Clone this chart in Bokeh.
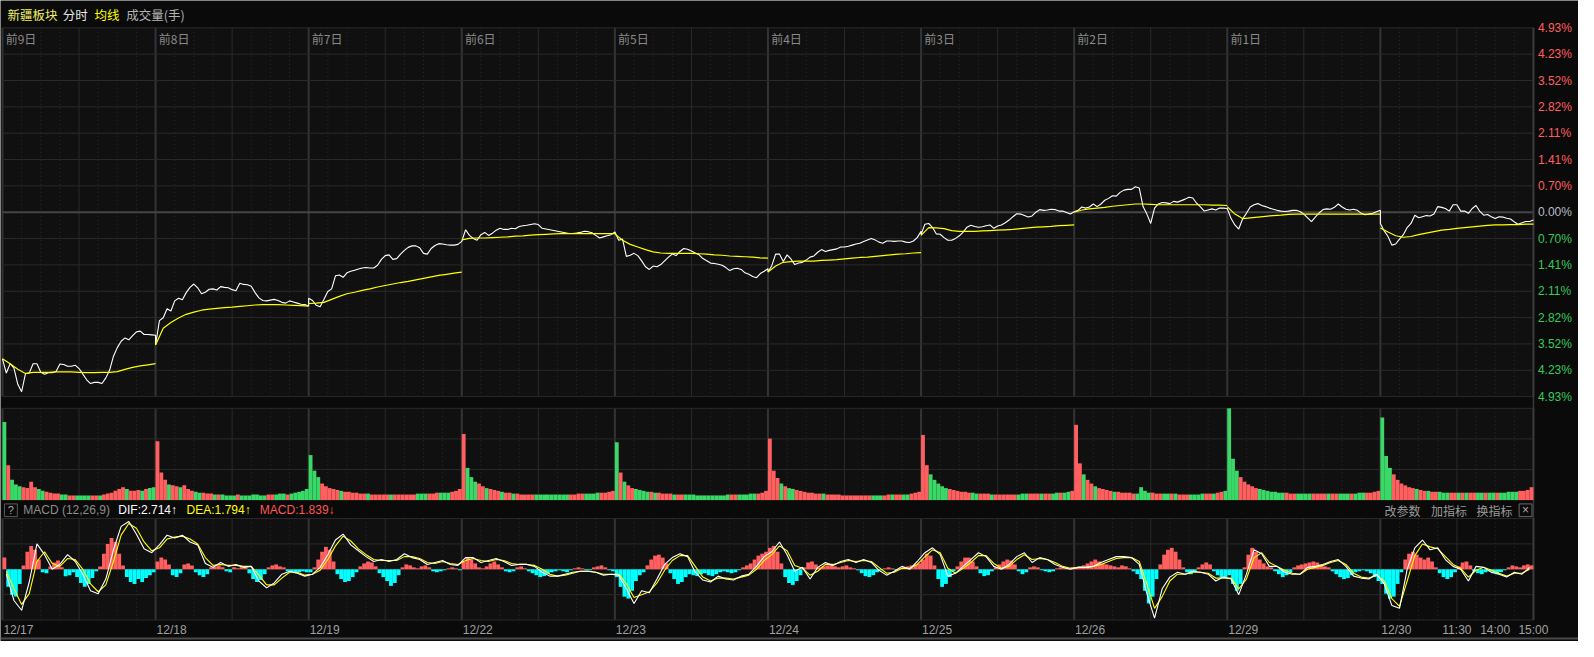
import numpy as np
from bokeh.plotting import figure
from bokeh.models import Range1d
from bokeh.core.properties import value
from bokeh.embed import file_html
from bokeh.resources import INLINE

# ---------------- data ----------------
dates = ["12/17", "12/18", "12/19", "12/22", "12/23", "12/24", "12/25", "12/26", "12/29", "12/30"]
day_tags = ["前9日", "前8日", "前7日", "前6日", "前5日", "前4日", "前3日", "前2日", "前1日", ""]
time_ticks = ["11:30", "14:00", "15:00"]
time_tick_min = [120, 180, 240]          # minutes into the last session
pct_labels = ["4.93%", "4.23%", "3.52%", "2.82%", "2.11%", "1.41%", "0.70%", "0.00%",
              "0.70%", "1.41%", "2.11%", "2.82%", "3.52%", "4.23%", "4.93%"]
pct_max = 4.93

# price change (%) every 6 minutes, 41 points per session
p1217 = [-3.92,-4.30,-4.05,-4.17,-4.60,-4.80,-4.32,-4.30,-4.05,-4.05,-4.28,-4.33,-4.29,-4.29,-4.26,-4.06,-4.07,-4.12,-4.12,-4.09,-4.18,-4.33,-4.48,-4.58,-4.55,-4.55,-4.58,-4.43,-4.22,-3.85,-3.62,-3.45,-3.36,-3.41,-3.30,-3.20,-3.18,-3.27,-3.27,-3.28,-3.29]
p1218 = [-3.55,-2.90,-2.82,-2.58,-2.64,-2.37,-2.30,-2.34,-2.15,-2.01,-1.92,-2.02,-2.18,-2.14,-2.06,-2.05,-2.08,-1.99,-2.01,-2.02,-2.07,-2.10,-1.90,-1.93,-1.94,-1.98,-2.15,-2.29,-2.36,-2.37,-2.35,-2.33,-2.36,-2.41,-2.43,-2.37,-2.40,-2.43,-2.46,-2.47,-2.51]
p1219 = [-2.30,-2.36,-2.49,-2.53,-2.33,-2.12,-2.05,-1.70,-1.68,-1.74,-1.62,-1.58,-1.55,-1.52,-1.49,-1.48,-1.49,-1.49,-1.42,-1.26,-1.16,-1.14,-1.26,-1.24,-1.12,-1.02,-0.94,-0.90,-0.90,-0.95,-1.10,-1.12,-0.97,-0.89,-0.84,-0.85,-0.87,-0.88,-0.88,-0.86,-0.78]
p1222 = [-0.78,-0.47,-0.62,-0.70,-0.75,-0.60,-0.54,-0.62,-0.56,-0.48,-0.43,-0.46,-0.46,-0.43,-0.44,-0.38,-0.36,-0.35,-0.33,-0.31,-0.33,-0.43,-0.45,-0.47,-0.49,-0.51,-0.53,-0.55,-0.57,-0.57,-0.56,-0.54,-0.51,-0.52,-0.55,-0.62,-0.69,-0.66,-0.63,-0.60,-0.53]
p1223 = [-0.53,-0.75,-0.72,-1.18,-1.15,-1.10,-1.16,-1.30,-1.46,-1.53,-1.44,-1.46,-1.40,-1.30,-1.20,-1.12,-1.16,-1.05,-0.97,-0.99,-1.04,-1.09,-1.14,-1.24,-1.30,-1.36,-1.37,-1.39,-1.42,-1.48,-1.56,-1.51,-1.50,-1.53,-1.62,-1.66,-1.72,-1.75,-1.64,-1.58,-1.51]
p1224 = [-1.60,-1.43,-1.12,-1.12,-1.32,-1.14,-1.25,-1.40,-1.36,-1.34,-1.28,-1.20,-1.17,-1.07,-1.00,-1.05,-1.02,-1.00,-0.98,-0.93,-0.93,-0.91,-0.88,-0.85,-0.83,-0.78,-0.74,-0.70,-0.74,-0.80,-0.83,-0.77,-0.77,-0.78,-0.77,-0.77,-0.80,-0.81,-0.77,-0.68,-0.51]
p1225 = [-0.60,-0.32,-0.30,-0.41,-0.58,-0.59,-0.68,-0.75,-0.75,-0.70,-0.63,-0.53,-0.40,-0.35,-0.38,-0.40,-0.39,-0.36,-0.34,-0.43,-0.37,-0.34,-0.28,-0.21,-0.12,-0.04,-0.05,-0.09,-0.13,-0.10,0.00,0.07,0.05,0.06,0.08,0.07,0.03,0.03,-0.01,-0.05,0.01]
p1226 = [0.01,0.05,0.14,0.11,0.14,0.22,0.15,0.22,0.32,0.37,0.44,0.43,0.53,0.59,0.61,0.61,0.68,0.65,0.15,-0.05,-0.30,0.11,0.22,0.26,0.25,0.23,0.29,0.27,0.31,0.35,0.40,0.38,0.24,0.14,0.03,0.06,0.09,0.06,0.11,0.11,0.10]
p1229 = [0.10,-0.17,-0.34,-0.45,-0.18,-0.03,0.14,0.20,0.23,0.18,0.15,0.11,0.08,0.05,0.03,0.02,0.03,0.05,0.05,0.02,-0.05,-0.15,-0.25,-0.13,-0.02,0.07,0.09,0.08,0.13,0.22,0.14,0.08,0.06,0.08,0.05,-0.03,-0.07,-0.05,-0.03,0.01,0.05]
p1230 = [-0.30,-0.50,-0.65,-0.88,-0.85,-0.72,-0.60,-0.41,-0.30,-0.08,-0.15,-0.12,-0.09,-0.10,-0.05,0.15,0.13,0.10,0.03,0.20,0.20,0.03,0.03,-0.03,0.10,0.18,0.02,-0.08,-0.06,-0.12,-0.17,-0.12,-0.13,-0.16,-0.18,-0.26,-0.32,-0.28,-0.25,-0.25,-0.21]

# average price (%) every 12 minutes, 21 points per session
a1217 = [-3.92,-4.05,-4.20,-4.31,-4.28,-4.28,-4.28,-4.27,-4.27,-4.27,-4.28,-4.29,-4.29,-4.28,-4.28,-4.26,-4.20,-4.15,-4.11,-4.08,-4.05]
a1218 = [-3.55,-3.10,-2.95,-2.83,-2.73,-2.67,-2.62,-2.59,-2.57,-2.55,-2.54,-2.52,-2.50,-2.48,-2.47,-2.47,-2.47,-2.48,-2.49,-2.50,-2.51]
a1219 = [-2.44,-2.43,-2.41,-2.33,-2.25,-2.18,-2.14,-2.09,-2.05,-2.00,-1.96,-1.92,-1.88,-1.85,-1.81,-1.77,-1.73,-1.69,-1.66,-1.63,-1.60]
a1222 = [-0.74,-0.70,-0.69,-0.69,-0.68,-0.67,-0.66,-0.64,-0.63,-0.61,-0.60,-0.59,-0.58,-0.57,-0.57,-0.57,-0.57,-0.57,-0.57,-0.57,-0.57]
a1223 = [-0.58,-0.75,-0.86,-0.93,-1.00,-1.06,-1.09,-1.10,-1.10,-1.10,-1.10,-1.11,-1.12,-1.14,-1.15,-1.17,-1.18,-1.19,-1.20,-1.22,-1.23]
a1224 = [-1.60,-1.44,-1.34,-1.32,-1.31,-1.31,-1.31,-1.29,-1.28,-1.27,-1.25,-1.23,-1.21,-1.20,-1.18,-1.16,-1.14,-1.12,-1.11,-1.09,-1.08]
a1225 = [-0.62,-0.41,-0.42,-0.44,-0.49,-0.51,-0.51,-0.51,-0.50,-0.49,-0.48,-0.47,-0.46,-0.44,-0.42,-0.40,-0.39,-0.38,-0.36,-0.35,-0.34]
a1226 = [0.00,0.06,0.09,0.11,0.13,0.16,0.18,0.20,0.22,0.22,0.21,0.20,0.20,0.20,0.20,0.20,0.20,0.20,0.19,0.19,0.18]
a1229 = [0.15,-0.05,-0.17,-0.15,-0.13,-0.11,-0.09,-0.08,-0.06,-0.05,-0.05,-0.05,-0.05,-0.05,-0.05,-0.05,-0.05,-0.05,-0.05,-0.05,-0.05]
a1230 = [-0.42,-0.53,-0.63,-0.67,-0.65,-0.60,-0.56,-0.52,-0.48,-0.46,-0.43,-0.41,-0.39,-0.37,-0.35,-0.34,-0.34,-0.33,-0.33,-0.32,-0.32]

# volume (relative, 100 = panel top), 6-minute bars, 40 per session
v1217 = [85,38,22,17,15,14,13,20,14,12,10,9,8,7,7,6,6,5,5,5,5,5,5,5,5,5,6,7,8,10,12,14,12,10,10,11,10,12,13,14]
v1218 = [64,30,22,17,16,15,14,16,12,10,9,8,8,7,7,6,6,6,5,5,5,6,5,5,5,6,6,5,5,6,6,6,7,7,6,7,8,9,10,12]
v1219 = [49,32,25,18,15,13,12,11,10,9,9,8,8,7,7,7,6,6,6,6,6,6,6,6,6,6,6,6,7,7,7,7,7,8,8,8,8,9,10,12]
v1222 = [72,35,25,20,18,15,13,12,11,10,9,8,8,7,7,6,6,6,6,6,6,6,6,6,6,6,6,6,6,6,7,7,7,7,7,8,8,8,9,10]
v1223 = [63,30,20,16,13,12,11,10,9,9,8,8,7,7,7,6,6,6,6,6,6,5,5,5,5,5,5,5,5,6,6,6,6,6,6,7,7,7,8,10]
v1224 = [67,32,24,18,15,13,12,11,10,9,8,8,7,7,7,6,6,6,6,5,5,5,5,5,5,5,5,5,5,5,5,6,6,6,6,6,6,7,8,9]
v1225 = [71,38,28,22,18,15,13,12,11,10,9,9,8,8,7,7,7,7,6,6,6,6,6,6,6,6,7,7,7,7,7,7,7,7,7,8,8,8,9,10]
v1226 = [82,40,28,22,18,15,13,12,11,10,9,9,8,8,8,7,7,14,10,8,8,7,7,7,7,7,7,6,6,6,6,6,6,7,7,7,7,8,9,10]
v1229 = [100,45,32,25,20,17,15,13,12,11,10,9,9,8,8,8,7,7,7,7,7,7,7,7,7,7,7,7,7,7,7,7,7,7,8,8,8,8,9,10]
v1230 = [90,48,35,28,22,18,16,14,13,12,11,10,10,9,9,9,8,8,8,8,8,8,8,8,8,8,8,8,8,8,8,8,8,9,9,9,10,10,11,14]

# MACD DIF / DEA every 12 minutes (20 per session), histogram every 6 minutes (40 per session)
dif1217 = [-5,-32,-42,-13,26,15,0,5,15,8,-5,-22,-25,-10,20,44,49,36,21,17]
dif1218 = [25,35,32,35,28,25,6,2,7,3,5,2,3,-12,-19,-14,-5,-2,-4,-7]
dif1219 = [-5,2,15,30,36,25,19,13,8,10,8,10,16,12,10,5,7,9,5,4]
dif1222 = [12,12,7,9,11,8,4,5,5,3,-3,-7,-7,-5,-3,-2,-2,-3,-6,-5]
dif1223 = [-6,-20,-35,-22,-24,-10,5,12,16,13,-3,-11,-13,-7,-10,-11,-7,-5,3,13]
dif1224 = [18,28,15,-2,2,-10,2,7,4,8,10,7,10,7,-1,-6,-2,3,0,8]
dif1225 = [17,22,15,-7,-4,3,10,17,13,3,0,5,13,17,7,12,10,5,2,0]
dif1226 = [2,2,3,7,10,13,13,12,5,-25,-50,-20,-8,-3,-5,-2,-3,-5,-12,-8]
dif1229 = [-10,-26,-5,20,16,3,3,-3,-5,-5,2,3,5,8,10,3,-7,-9,-10,-5]
dif1230 = [-15,-37,-40,0,22,30,20,22,10,3,0,-12,3,2,-3,-5,-8,-3,-5,2]

dea1217 = [-2,-20,-36,-25,8,18,6,3,11,10,0,-15,-23,-16,8,35,47,42,28,19]
dea1218 = [22,31,33,34,31,26,12,4,5,4,4,3,3,-6,-16,-16,-9,-3,-3,-6]
dea1219 = [-5,-1,10,24,34,29,21,15,10,9,9,9,13,13,11,7,6,8,6,5]
dea1222 = [9,11,9,8,10,9,6,5,5,4,0,-5,-7,-6,-4,-2,-2,-3,-5,-5]
dea1223 = [-5,-15,-29,-26,-23,-14,-1,9,14,14,3,-8,-12,-9,-9,-10,-8,-6,0,9]
dea1224 = [15,24,19,4,1,-6,-2,5,5,7,9,8,9,8,2,-4,-3,1,1,5]
dea1225 = [13,20,17,1,-4,1,7,14,14,6,1,3,10,15,10,11,10,7,3,1]
dea1226 = [2,2,3,5,8,11,12,12,8,-15,-40,-28,-12,-5,-5,-3,-3,-4,-9,-9]
dea1229 = [-9,-20,-10,12,17,7,3,-1,-4,-5,0,2,4,7,9,5,-4,-8,-9,-6]
dea1230 = [-12,-30,-38,-12,14,26,23,21,13,5,1,-8,-1,2,-1,-4,-7,-4,-4,0]

h1217 = [12,-18,-26,-28,-15,4,18,24,20,10,-3,-4,3,7,9,2,-7,-6,-3,-8,-14,-18,-15,-9,-2,3,16,26,32,28,16,4,-8,-13,-15,-10,-13,-9,-6,-3]
h1218 = [8,12,10,5,-6,-8,-4,5,6,4,-3,-6,-8,-5,2,3,4,2,-2,-3,2,1,3,2,-4,-10,-13,-11,-5,2,4,5,3,2,-2,-3,-4,-3,-2,-3]
h1219 = [-3,2,10,18,23,20,8,-5,-10,-13,-12,-8,-3,3,6,8,7,3,-4,-8,-12,-17,-14,-6,2,5,4,2,1,3,4,2,-2,-3,-2,-1,1,2,1,-1]
h1222 = [8,12,10,6,2,1,3,6,8,5,2,-2,-3,-2,2,3,1,-2,-4,-6,-8,-7,-5,-3,-2,-1,-2,-3,-1,1,2,1,-1,-1,2,3,4,2,-1,-2]
h1223 = [-8,-18,-28,-30,-22,-12,-6,-3,4,10,14,15,12,6,-4,-10,-15,-13,-8,-5,-6,-7,-5,-4,-6,-7,-5,-3,-2,-3,-4,-3,-1,2,4,6,10,14,16,18]
h1224 = [22,24,18,6,-8,-14,-16,-12,-6,2,7,8,5,2,3,4,5,3,2,3,4,2,1,-1,-4,-7,-8,-6,-3,-1,1,2,1,-1,1,2,3,4,5,6]
h1225 = [10,16,14,4,-10,-18,-15,-8,-2,3,8,12,12,8,3,-4,-7,-6,-2,2,5,8,10,9,5,-2,-5,-3,2,3,2,-1,-2,-3,-2,1,2,1,1,2]
h1226 = [2,3,4,6,8,10,8,6,5,4,3,2,4,3,1,-2,-5,-10,-22,-35,-28,-10,5,15,20,22,18,10,2,-3,-5,-3,2,5,7,5,-2,-6,-9,-8]
h1229 = [-6,-15,-22,-15,2,15,22,18,10,6,3,2,-2,-5,-8,-6,-3,2,4,5,6,7,8,7,5,3,2,-2,-5,-8,-10,-9,-6,-3,-2,-1,-2,-4,-8,-12]
h1230 = [-15,-25,-30,-28,-15,-3,10,16,18,15,12,10,12,8,2,-4,-8,-10,-8,-3,3,7,8,4,-2,-4,-5,-3,-2,-4,-5,-3,-1,2,4,3,2,4,5,4]

header_items = [("新疆板块", "#f2f06a"), ("分时", "#e6e6e6"), ("均线", "#ffff00"), ("成交量(手)", "#b4b4b4")]
macd_items = [("MACD (12,26,9)", "#8c8c8c"), ("DIF:2.714↑", "#ffffff"), ("DEA:1.794↑", "#ffff00"), ("MACD:1.839↓", "#ff5555")]
macd_tools = ["改参数", "加指标", "换指标"]

prices = [p1217, p1218, p1219, p1222, p1223, p1224, p1225, p1226, p1229, p1230]
avgs = [a1217, a1218, a1219, a1222, a1223, a1224, a1225, a1226, a1229, a1230]
vols = [v1217, v1218, v1219, v1222, v1223, v1224, v1225, v1226, v1229, v1230]
difs = [dif1217, dif1218, dif1219, dif1222, dif1223, dif1224, dif1225, dif1226, dif1229, dif1230]
deas = [dea1217, dea1218, dea1219, dea1222, dea1223, dea1224, dea1225, dea1226, dea1229, dea1230]
hists = [h1217, h1218, h1219, h1222, h1223, h1224, h1225, h1226, h1229, h1230]

# ---------------- layout (reference pixel frame 1594 x 657) ----------------
W, H = 1578, 641
RW, RH = 1594, 657
X0, X1 = 2.0, 1548.5            # minute 0 / minute 2400
MT, MB = 28.0, 406.0            # price panel
VT, VB = 418.0, 512.0           # volume panel
CT, CZ, CB = 531.0, 583.0, 635.0  # macd panel
SESSION = 240
NDAY = len(dates)

def m_of(px):
    return (px - X0) / (X1 - X0) * SESSION * NDAY

def pct_of(py):
    return pct_max - (py - MT) / (MB - MT) * 2 * pct_max

def vol_of(py):
    return (VB - py) / (VB - VT) * 100.0

def macd_of(py):
    return CZ - py

BG = "#0a0a0a"
PANEL = "#101010"
GRID = "#2a2a2a"
DAYGRID = "#343434"
RED = "#ff5f5f"
GREEN = "#3ad867"
CYAN = "#00ffff"
CJK = value("Noto Sans CJK SC")
LAT = value("Liberation Sans")

p = figure(width=W, height=H, x_range=Range1d(m_of(0), m_of(RW)),
           y_range=Range1d(pct_of(RH), pct_of(0)),
           x_axis_type=None, y_axis_type=None,
           toolbar_location=None, output_backend="svg", min_border=0,
           outline_line_color=None, background_fill_color=BG, border_fill_color=BG)
p.extra_y_ranges = {"vol": Range1d(vol_of(RH), vol_of(0)),
                    "macd": Range1d(macd_of(RH), macd_of(0)),
                    "px": Range1d(RH, 0)}
p.extra_x_ranges = {"px": Range1d(0, RW)}
p.grid.visible = False

TOT = SESSION * NDAY
# panel backgrounds
for (t, b) in [(MT, MB), (VT, VB), (CT, CB)]:
    p.quad(left=[0], right=[TOT], top=[t], bottom=[b], y_range_name="px",
           fill_color=PANEL, line_color=None)
p.quad(left=[SESSION * (NDAY - 1)], right=[TOT], top=[CT], bottom=[CB], y_range_name="px",
       fill_color="#0c0c0c", line_color=None)

# vertical grid
for (t, b) in [(MT, MB), (VT, VB), (CT, CB)]:
    mins = np.arange(0, TOT + 1, 30)
    q = mins[(mins % 120) != 0]
    h = mins[((mins % 120) == 0) & ((mins % 240) != 0)]
    d = mins[(mins % 240) == 0]
    p.segment(x0=q, x1=q, y0=[t] * len(q), y1=[b] * len(q), y_range_name="px",
              line_color="#2c2c2c", line_width=1, line_dash="1 3")
    p.segment(x0=h, x1=h, y0=[t] * len(h), y1=[b] * len(h), y_range_name="px",
              line_color=GRID, line_width=1)
    p.segment(x0=d, x1=d, y0=[t] * len(d), y1=[b] * len(d), y_range_name="px",
              line_color=DAYGRID, line_width=2)

# horizontal grid
lv = [pct_max * k / 7 for k in range(-7, 8) if k != 0]
p.segment(x0=[0] * len(lv), x1=[TOT] * len(lv), y0=lv, y1=lv, line_color=GRID, line_width=1)
p.segment(x0=[0], x1=[TOT], y0=[0], y1=[0], line_color="#454545", line_width=2)
vl = [0, 100 / 3, 200 / 3, 100]
p.segment(x0=[0] * 4, x1=[TOT] * 4, y0=vl, y1=vl, y_range_name="vol", line_color=GRID, line_width=1)
ml = [macd_of(CT), macd_of(CT) / 2, 0, macd_of(CB) / 2, macd_of(CB)]
p.segment(x0=[0] * 5, x1=[TOT] * 5, y0=ml, y1=ml, y_range_name="macd", line_color=GRID, line_width=1)

# border on right of plots, header separators, bottom rule
p.segment(x0=[X1], x1=[X1], y0=[MT], y1=[CB], x_range_name="px", y_range_name="px",
          line_color="#3a3a3a", line_width=1.5)
p.segment(x0=[0], x1=[RW], y0=[654], y1=[654], x_range_name="px", y_range_name="px",
          line_color="#4a4a4a", line_width=2)

# ---------------- price & average ----------------
px_x, px_y = [], []
for d, arr in enumerate(prices):
    for j, v in enumerate(arr):
        px_x.append(d * SESSION + j * 6)
        px_y.append(v)
p.line(px_x, px_y, line_color="#ffffff", line_width=1.1)
p.multi_line([[d * SESSION + 12 * j for j in range(len(a))] for d, a in enumerate(avgs)],
             avgs, line_color="#ffff00", line_width=1.2)

# ---------------- volume ----------------
vx, vt, vc = [], [], []
for d, arr in enumerate(vols):
    pr = prices[d]
    for i, v in enumerate(arr):
        vx.append(d * SESSION + 6 * i + 3)
        vt.append(v)
        vc.append(RED if pr[i + 1] >= pr[i] else GREEN)
p.vbar(x=vx, top=vt, bottom=0, width=6, fill_color=vc, line_color=None, y_range_name="vol")

# ---------------- MACD ----------------
hx, ht, hc = [], [], []
for d, arr in enumerate(hists):
    for i, v in enumerate(arr):
        hx.append(d * SESSION + 6 * i + 3)
        ht.append(v)
        hc.append(RED if v >= 0 else CYAN)
p.vbar(x=hx, top=ht, bottom=0, width=6, fill_color=hc, line_color=None, y_range_name="macd")
lx, ldif, ldea = [], [], []
for d in range(NDAY):
    for i in range(len(difs[d])):
        lx.append(d * SESSION + 12 * i + 6)
        ldif.append(difs[d][i])
        ldea.append(deas[d][i])
p.line(lx, ldea, line_color="#ffff00", line_width=1.1, y_range_name="macd")
p.line(lx, ldif, line_color="#ffffff", line_width=1.1, y_range_name="macd")

# ---------------- texts ----------------
hx_pos = [7, 63, 95, 127]
for (txt, col), xx in zip(header_items, hx_pos):
    p.text(x=[xx], y=[14], text=[txt], x_range_name="px", y_range_name="px",
           text_color=col, text_font=CJK, text_font_size="12.5px", text_baseline="middle")

p.text(x=[d * SESSION + 5 for d in range(NDAY)], y=[39] * NDAY, text=day_tags, y_range_name="px",
       text_color="#8a8a8a", text_font=CJK, text_font_size="12px", text_baseline="middle")

lvals = [pct_max - k * pct_max / 7 for k in range(15)]
lcols = [RED] * 7 + ["#b8bcc4"] + ["#37c95c"] * 7
p.text(x=[1553] * 15, y=lvals, text=pct_labels, x_range_name="px", text_color=lcols,
       text_font=LAT, text_font_size="12px", text_baseline="middle")

# macd header
p.quad(left=[4], right=[17], top=[516], bottom=[529], x_range_name="px", y_range_name="px",
       fill_color=None, line_color="#5a5a5a", line_width=1)
p.text(x=[10.5], y=[522.5], text=["?"], x_range_name="px", y_range_name="px", text_color="#aaaaaa",
       text_font=LAT, text_font_size="11px", text_baseline="middle", text_align="center")
for (txt, col), xx in zip(macd_items, [23, 119, 188, 262]):
    p.text(x=[xx], y=[522.5], text=[txt], x_range_name="px", y_range_name="px", text_color=col,
           text_font=LAT, text_font_size="12px", text_baseline="middle")
p.text(x=[1398, 1445, 1491], y=[522.5] * 3, text=macd_tools, x_range_name="px", y_range_name="px",
       text_color="#9a9a9a", text_font=CJK, text_font_size="12px", text_baseline="middle")
p.quad(left=[1534], right=[1547], top=[516], bottom=[529], x_range_name="px", y_range_name="px",
       fill_color=None, line_color="#6a6a6a", line_width=1)
p.text(x=[1540.5], y=[522.5], text=["×"], x_range_name="px", y_range_name="px", text_color="#aaaaaa",
       text_font=LAT, text_font_size="12px", text_baseline="middle", text_align="center")

# date axis
p.text(x=[d * SESSION + 1.5 for d in range(NDAY)], y=[645] * NDAY, text=dates, y_range_name="px",
       text_color="#a0a0a0", text_font=LAT, text_font_size="12px", text_baseline="middle")
p.text(x=[(NDAY - 1) * SESSION + m for m in time_tick_min], y=[645] * 3, text=time_ticks,
       y_range_name="px", text_color="#a0a0a0", text_font=LAT, text_font_size="12px",
       text_baseline="middle", text_align="center")

open("out.html", "w").write(file_html(p, INLINE))
